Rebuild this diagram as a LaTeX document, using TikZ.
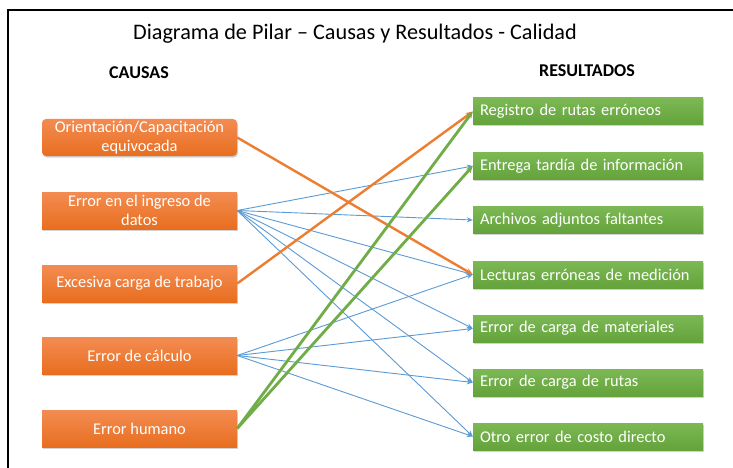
\documentclass[tikz,border=0pt]{standalone}
\usepackage{fontspec}
\setmainfont{Carlito}
\usetikzlibrary{arrows.meta,shadows}
\definecolor{orA}{HTML}{F38C52}
\definecolor{orB}{HTML}{E86E1F}
\definecolor{orL}{HTML}{ED7D31}
\definecolor{grA}{HTML}{7CB955}
\definecolor{grB}{HTML}{64A23B}
\definecolor{grL}{HTML}{70AD47}
\definecolor{blL}{HTML}{5B9BD5}
\tikzset{
  obox/.style={rectangle, minimum width=195pt, minimum height=37pt, inner sep=1pt,
    top color=orA, bottom color=orB, text=white, align=center,
    font=\fontsize{16.4}{19}\selectfont,
    drop shadow={shadow xshift=1pt, shadow yshift=-1.5pt, opacity=0.35}},
  gbox/.style={rectangle, minimum width=230pt, minimum height=27pt, inner xsep=7pt, inner ysep=1pt,
    text width=216pt, align=left,
    top color=grA, bottom color=grB, text=white,
    font=\fontsize{16.4}{19}\selectfont,
    drop shadow={shadow xshift=1pt, shadow yshift=-1.5pt, opacity=0.35}},
  bl/.style={draw=blL, line width=0.9pt, -{Stealth[length=6pt,width=5pt]}},
  orl/.style={draw=orL, line width=2.4pt, -{Stealth[length=7pt,width=6pt]}},
  grl/.style={draw=grL, line width=2.8pt, -{Stealth[length=7pt,width=6pt]}},
  hdr/.style={font=\bfseries\fontsize{18}{20}\selectfont}
}
\begin{document}
\begin{tikzpicture}[x=1pt,y=-1pt]
\useasboundingbox (0,0) rectangle (733,468);
\fill[white] (0,0) rectangle (733,468);
\draw[line width=1.5pt] (8,468) -- (8,10) -- (733,10);
\node (title) at (355,34) {\fontsize{22.2}{25}\selectfont Diagrama de Pilar -- Causas y Resultados - Calidad};
\node[hdr] (causas) at (139,73) {CAUSAS};
\node[hdr] (resultados) at (587,71) {RESULTADOS};

\node[obox, rounded corners=4pt] (c1) at (139.5,137.5) {Orientación/Capacitación\\equivocada};
\node[obox] (c2) at (139.5,210.5) {Error en el ingreso de\\datos};
\node[obox] (c3) at (139.5,283.5) {Excesiva carga de trabajo};
\node[obox] (c4) at (139.5,355.5) {Error de cálculo};
\node[obox] (c5) at (139.5,428.5) {Error humano};

\node[gbox] (r1) at (588,111.5) {Registro de rutas erróneos};
\node[gbox] (r2) at (588,166) {Entrega tardía de información};
\node[gbox] (r3) at (588,220) {Archivos adjuntos faltantes};
\node[gbox] (r4) at (588,274.5) {Lecturas erróneas de medición};
\node[gbox] (r5) at (588,328.5) {Error de carga de materiales};
\node[gbox] (r6) at (588,382.5) {Error de carga de rutas};
\node[gbox] (r7) at (588,436.5) {Otro error de costo directo};

\foreach \r in {r2,r3,r4,r5,r6,r7} \draw[bl] (c2.east) -- (\r.west);
\foreach \r in {r4,r5,r6,r7} \draw[bl] (c4.east) -- (\r.west);
\draw[orl] (c1.east) -- (r4.west);
\draw[orl] (c3.east) -- (r1.west);
\draw[grl] (c5.east) -- (r1.west);
\draw[grl] (c5.east) -- (r2.west);
\end{tikzpicture}
\end{document}
